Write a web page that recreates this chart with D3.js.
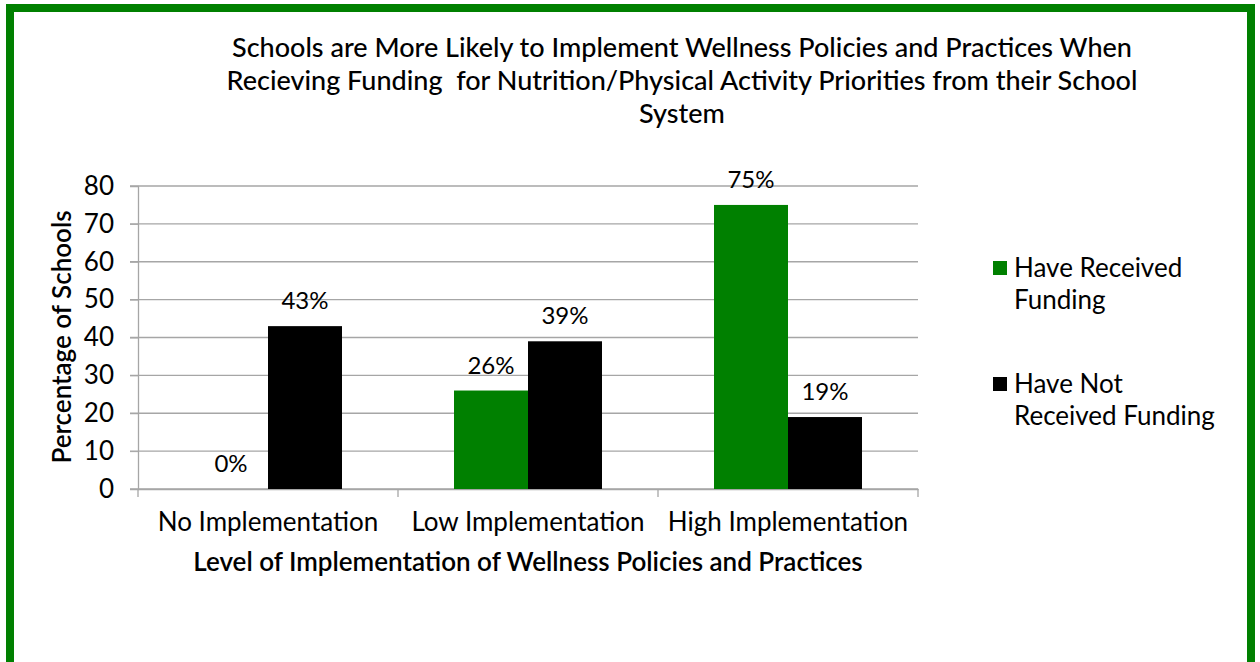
<!DOCTYPE html>
<html><head><meta charset="utf-8">
<script src="https://cdn.jsdelivr.net/npm/d3@7"></script>
<style>body{margin:0;background:#fff}svg{display:block}text{font-family:Lato,"Open Sans",sans-serif;fill:#000}</style>
</head><body><svg id="c" width="1260" height="662"></svg>
<script>
const categories = ["No Implementation", "Low Implementation", "High Implementation"];
const seriesNames = ["Have Received Funding", "Have Not Received Funding"];
const receivedFunding = [0, 26, 75];
const notReceivedFunding = [43, 39, 19];
const yTicks = [0, 10, 20, 30, 40, 50, 60, 70, 80];
const colors = ["#008000", "#000000"];
const titleLines = ["Schools are More Likely to Implement Wellness Policies and Practices When", "Recieving Funding  for Nutrition/Physical Activity Priorities from their School", "System"];

const svg = d3.select("#c");
svg.append("rect").attr("x",10).attr("y",8).attr("width",1241).attr("height",700)
  .attr("fill","#fff").attr("stroke","#008000").attr("stroke-width",8);

const L=138,R=918,T=186,B=489;
const x = d3.scaleBand().domain(categories).range([L,R]).paddingInner(0).paddingOuter(0);
const xs = d3.scaleBand().domain([0,1]).range([56,x.bandwidth()-56]).padding(0);
const y = d3.scaleLinear().domain([0,80]).range([B,T]);

// gridlines
svg.append("g").selectAll("line").data(yTicks).join("line")
  .attr("x1",130).attr("x2",R).attr("y1",d=>y(d)).attr("y2",d=>y(d))
  .attr("stroke","#a6a6a6").attr("stroke-width",1.3);
// y axis
const ya = svg.append("g").attr("transform",`translate(${L},0)`).call(d3.axisLeft(y).tickValues(yTicks).tickSize(8).tickPadding(16));
ya.select(".domain").attr("stroke","#a6a6a6").attr("stroke-width",1.3);
ya.selectAll(".tick line").attr("stroke","#a6a6a6");
ya.selectAll("text").attr("font-size",26).attr("font-family","Lato,sans-serif").attr("fill","#000");
// x axis
const xa = svg.append("g").attr("transform",`translate(0,${B})`).call(d3.axisBottom(x).tickSize(0).tickPadding(24));
xa.select(".domain").attr("stroke","#a6a6a6").attr("stroke-width",1.3);
xa.selectAll("text").attr("font-size",26).attr("font-family","Lato,sans-serif").attr("fill","#000");
svg.append("g").selectAll("line").data([...categories.map(c=>x(c)), R]).join("line")
  .attr("x1",d=>d).attr("x2",d=>d).attr("y1",B).attr("y2",B+8).attr("stroke","#a6a6a6").attr("stroke-width",1.3);

const series=[receivedFunding, notReceivedFunding];
series.forEach((vals,si)=>{
  const g=svg.append("g");
  g.selectAll("rect").data(vals).join("rect")
    .attr("x",(d,i)=>x(categories[i])+xs(si)).attr("width",xs.bandwidth())
    .attr("y",d=>y(d)).attr("height",d=>B-y(d)).attr("fill",colors[si]);
  g.selectAll("text").data(vals).join("text")
    .attr("x",(d,i)=>x(categories[i])+xs(si)+xs.bandwidth()/2)
    .attr("y",d=>y(d)-17).attr("text-anchor","middle").attr("font-size",24).text(d=>d+"%");
});

// title
svg.append("g").selectAll("text").data(titleLines).join("text")
  .attr("x",682).attr("y",(d,i)=>57+i*33).attr("text-anchor","middle")
  .style("white-space","pre")
  .attr("font-size",27).attr("font-weight",500).text(d=>d);
// axis titles
svg.append("text").attr("transform","translate(71,337) rotate(-90)").attr("text-anchor","middle")
  .attr("font-size",26).attr("font-weight",600).text("Percentage of Schools");
svg.append("text").attr("x",528).attr("y",571).attr("text-anchor","middle")
  .attr("font-size",26).attr("font-weight",600).text("Level of Implementation of Wellness Policies and Practices");

// legend
const legend=[{lines:["Have Received","Funding"],y:268},{lines:["Have Not","Received Funding"],y:384}];
legend.forEach((l,i)=>{
  svg.append("rect").attr("x",993).attr("y",l.y-7).attr("width",14).attr("height",14).attr("fill",colors[i]);
  l.lines.forEach((t,j)=>svg.append("text").attr("x",1014).attr("y",l.y+9+j*32).attr("font-size",26).text(t));
});
</script></body></html>
